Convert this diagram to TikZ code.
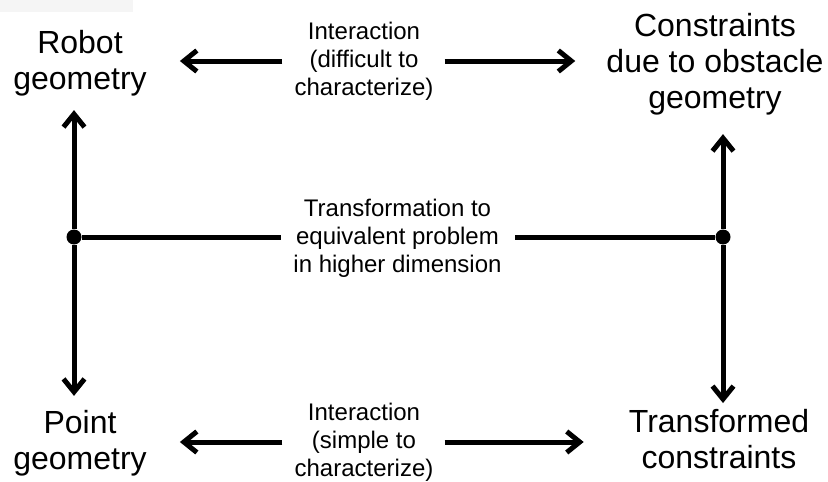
\documentclass[tikz,border=0pt]{standalone}
\usepackage{fontspec}
\setmainfont{Liberation Sans}
\usetikzlibrary{arrows.meta, positioning}

\begin{document}
\begin{tikzpicture}[
				x=1pt, y=-1pt,
				big/.style={align=center, inner sep=0pt, font=\fontsize{32}{36}\selectfont},
				small/.style={align=center, inner sep=0pt, font=\fontsize{24}{28}\selectfont},
				arrow/.style={-{Straight Barb[length=13pt, width=21pt]}, line width=5pt},
				link/.style={line width=5pt},
				junction/.style={circle, fill, inner sep=0pt, minimum size=15pt}
				]
				\useasboundingbox (0,0) rectangle (828,482);
				\fill[black!4] (0,0) rectangle (133,12);
				
				% Nodes
				\node[big] (robot) at (80,63) {Robot\\geometry};
				\node[big] (obst) at (715,64) {Constraints\\due to obstacle\\geometry};
				\node[big] (point) at (80,443) {Point\\geometry};
				\node[big] (trans) at (719,439) {Transformed\\constraints};
				\node[small] (itop) at (364,61) {Interaction\\(difficult to\\characterize)};
				\node[small] (ibot) at (364,442) {Interaction\\(simple to\\characterize)};
				\node[small] (mid) at (397.5,238) {Transformation to\\equivalent problem\\in higher dimension};
				\node[junction] (jl) at (74,237) {};
				\node[junction] (jr) at (723,237) {};
				
				% Arrows (interaction)
				\draw[arrow, shorten <=12pt, shorten >=33pt] (itop.west) -- (itop.west -| robot.east);
				\draw[arrow, shorten <=11pt, shorten >=31pt] (itop.east) -- (itop.east -| obst.west);
				\draw[arrow, shorten <=12pt, shorten >=33pt] (ibot.west) -- (ibot.west -| point.east);
				\draw[arrow, shorten <=11pt, shorten >=45pt] (ibot.east) -- (ibot.east -| trans.west);
				
				% Arrows (transformation)
				\draw[arrow, shorten >=14pt] (jl) -- (jl |- robot.south);
				\draw[arrow, shorten >=14pt] (jl) -- (jl |- point.north);
				\draw[arrow, shorten >=19pt] (jr) -- (jr |- obst.south);
				\draw[arrow, shorten >=6pt] (jr) -- (jr |- trans.north);
				\draw[link, shorten >=12pt] (jl) -- (jl -| mid.west);
				\draw[link, shorten >=13pt] (jr) -- (jr -| mid.east);
				
			\end{tikzpicture}
\end{document}
